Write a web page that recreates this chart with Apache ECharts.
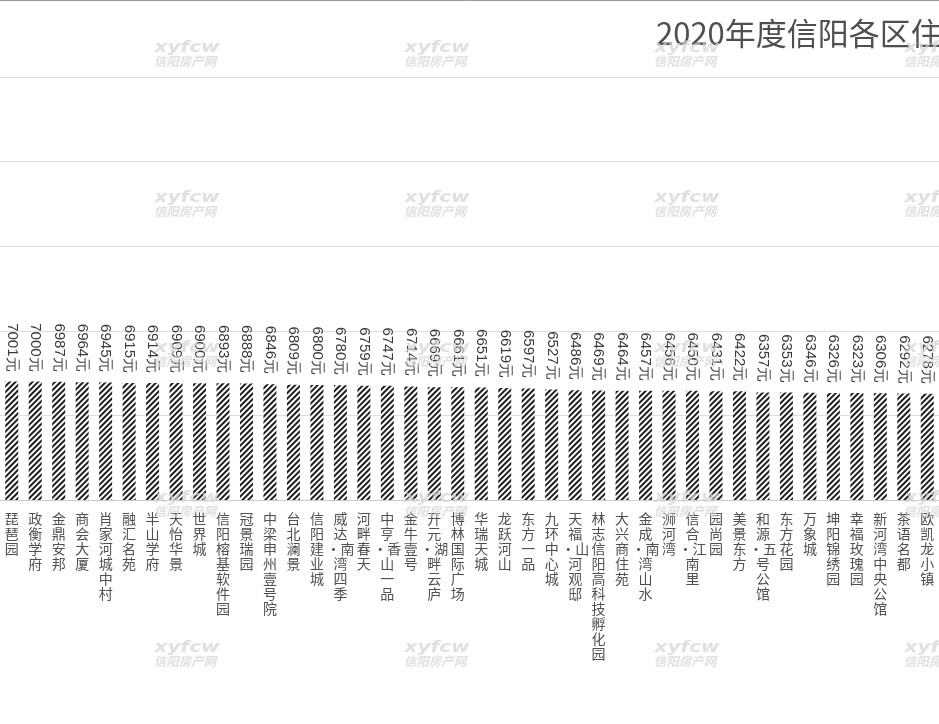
<!DOCTYPE html>
<html>
<head>
<meta charset="utf-8">
<script src="https://cdn.jsdelivr.net/npm/echarts@6/dist/echarts.min.js"></script>
<style>
html,body{margin:0;padding:0;background:#fff;}
#main{width:939px;height:724px;}
</style>
</head>
<body>
<div id="main"></div>
<script>
const titleText = '2020年度信阳各区住';
const categories = ['琵琶园','政衡学府','金鼎安邦','商会大厦','肖家河城中村','融汇名苑','半山学府','天怡华景','世界城','信阳榕基软件园','冠景瑞园','中梁申州壹号院','台北澜景','信阳建业城','威达·南湾四季','河畔春天','中亨·香山一品','金牛壹号','开元·湖畔云庐','博林国际广场','华瑞天城','龙跃河山','东方一品','九环中心城','天福·山河观邸','林志信阳高科技孵化园','大兴商住苑','金成·南湾山水','浉河湾','信合·江南里','园尚园','美景东方','和源·五号公馆','东方花园','万象城','坤阳锦绣园','幸福玫瑰园','新河湾中央公馆','茶语名都','欧凯龙小镇'];
const values = [7001,7000,6987,6964,6945,6915,6914,6909,6900,6893,6888,6846,6809,6800,6780,6759,6747,6714,6669,6661,6651,6619,6597,6527,6486,6469,6464,6457,6456,6450,6431,6422,6357,6353,6346,6326,6323,6306,6292,6278];
const unit = '元';
const yMin = 0, yMax = 25000, yInterval = 5000;

function verticalLabel(s){
  const out = [];
  const chars = Array.from(s);
  for (let i = 0; i < chars.length; i++) {
    if (chars[i] === '·' && i + 1 < chars.length) { out.push('·' + chars[i+1]); i++; }
    else out.push(chars[i]);
  }
  return out.join('\n');
}

const wmColor = 'rgba(212,212,212,0.72)';
const graphics = [];
graphics.push({type:'line', shape:{x1:0,y1:0.5,x2:939,y2:0.5}, style:{stroke:'#999',lineWidth:1}, z:100});
for (let r = 0; r < 5; r++) {
  for (let c = 0; c < 4; c++) {
    const cx = 187 + 250 * c, ty = 40 + 150 * r;
    graphics.push({type:'text', x:cx, y:ty, scaleX:1.25, z:100, silent:true, style:{text:'xyfcw', fill:wmColor, font:'italic bold 16px "DejaVu Sans", sans-serif', textAlign:'center', textVerticalAlign:'top'}});
    graphics.push({type:'text', x:cx - 2, y:ty + 15, z:100, silent:true, style:{text:'信阳房产网', fill:wmColor, font:'italic bold 12.5px "Noto Sans CJK SC", sans-serif', textAlign:'center', textVerticalAlign:'top'}});
  }
}

const chart = echarts.init(document.getElementById('main'));
chart.setOption({
  backgroundColor:'#fff',
  animation:false,
  title:{text:titleText, left:651, top:13, textStyle:{fontSize:31, fontWeight:'normal', color:'#4f4f4f', fontFamily:'"Noto Sans CJK SC",sans-serif'}},
  grid:{left:-3.4, right:-8.4, top:77, bottom:224, containLabel:false},
  xAxis:{type:'category', data:categories.map(verticalLabel),
    axisLine:{lineStyle:{color:'#ccc'}}, axisTick:{show:false},
    axisLabel:{interval:0, margin:11, color:'#505050', fontSize:14, lineHeight:15, fontFamily:'"Noto Sans CJK SC",sans-serif', verticalAlign:'top'}},
  yAxis:{type:'value', min:yMin, max:yMax, interval:yInterval,
    axisLabel:{show:false}, axisLine:{show:false}, axisTick:{show:false},
    splitLine:{lineStyle:{color:'#ddd'}}},
  series:[{type:'bar', data:values, barWidth:13,
    itemStyle:{color:'#fff', decal:{symbol:'rect', symbolSize:1, color:'#1e1e1e', dashArrayX:[1,0], dashArrayY:[1.6,1.6], rotation:-Math.PI/4}},
    label:{show:true, position:'top', distance:10, rotate:-90, align:'right', verticalAlign:'middle',
      formatter:p => p.value + unit, color:'#3a3a3a', fontSize:15, fontFamily:'"Liberation Sans",Arial,sans-serif'}
  }],
  graphic:graphics
});
</script>
</body>
</html>
